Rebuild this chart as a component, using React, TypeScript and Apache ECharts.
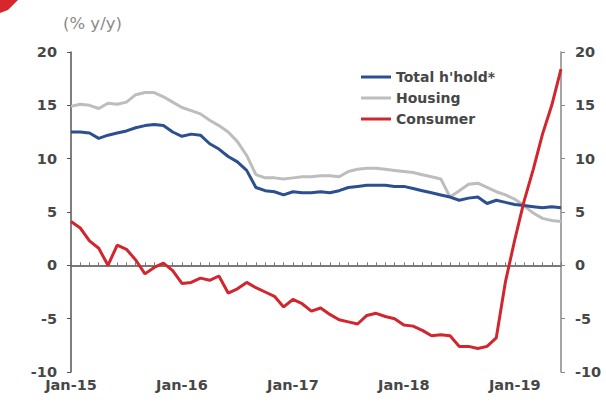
import React, { useEffect, useRef } from "react";
import * as echarts from "echarts";

const MONTHS = ["Jan", "Feb", "Mar", "Apr", "May", "Jun", "Jul", "Aug", "Sep", "Oct", "Nov", "Dec"];
const YEARS = ["15", "16", "17", "18", "19"];
const LAST_MONTH_INDEX_2019 = 5; // Jun-19

const categories: string[] = [];
YEARS.forEach((y, yi) => {
  MONTHS.forEach((m, mi) => {
    if (yi === YEARS.length - 1 && mi > LAST_MONTH_INDEX_2019) return;
    categories.push(`${m}-${y}`);
  });
});

const totalHousehold = [
  12.5, 12.5, 12.4, 11.9, 12.2, 12.4, 12.6, 12.9, 13.1, 13.2, 13.1, 12.5,
  12.1, 12.3, 12.2, 11.4, 10.9, 10.2, 9.7, 8.9, 7.3, 7.0, 6.9, 6.6,
  6.9, 6.8, 6.8, 6.9, 6.8, 7.0, 7.3, 7.4, 7.5, 7.5, 7.5, 7.4,
  7.4, 7.2, 7.0, 6.8, 6.6, 6.4, 6.1, 6.3, 6.4, 5.8, 6.1, 5.9,
  5.7, 5.6, 5.5, 5.4, 5.5, 5.4,
];

const housing = [
  14.9, 15.1, 15.0, 14.7, 15.2, 15.1, 15.3, 16.0, 16.2, 16.2, 15.8, 15.3,
  14.8, 14.5, 14.2, 13.6, 13.1, 12.5, 11.6, 10.3, 8.5, 8.2, 8.2, 8.1,
  8.2, 8.3, 8.3, 8.4, 8.4, 8.3, 8.8, 9.0, 9.1, 9.1, 9.0, 8.9,
  8.8, 8.7, 8.5, 8.3, 8.1, 6.4, 7.0, 7.6, 7.7, 7.3, 6.9, 6.6,
  6.2, 5.6, 4.9, 4.4, 4.2, 4.1,
];

const consumer = [
  4.1, 3.5, 2.3, 1.6, 0.0, 1.9, 1.5, 0.5, -0.8, -0.2, 0.2, -0.5,
  -1.7, -1.6, -1.2, -1.4, -1.0, -2.6, -2.2, -1.6, -2.1, -2.5, -2.9, -3.9,
  -3.2, -3.6, -4.3, -4.0, -4.6, -5.1, -5.3, -5.5, -4.7, -4.5, -4.8, -5.0,
  -5.6, -5.7, -6.1, -6.6, -6.5, -6.6, -7.6, -7.6, -7.8, -7.6, -6.8, -1.5,
  2.4, 6.0, 9.0, 12.3, 15.0, 18.4,
];

const yTicks = [-10, -5, 0, 5, 10, 15, 20];

const FONT = "DejaVu Sans, Liberation Sans, sans-serif";

export default function App() {
  const ref = useRef<HTMLDivElement>(null);

  useEffect(() => {
    if (!ref.current) return;
    const chart = echarts.init(ref.current, null, { renderer: "svg" });
    const axisFont = {
      fontFamily: FONT,
      fontSize: 14.5,
      fontWeight: "bold" as const,
      color: "#474747",
    };
    const yAxisBase = {
      type: "value" as const,
      min: yTicks[0],
      max: yTicks[yTicks.length - 1],
      interval: 5,
      splitLine: { show: false },
    };
    chart.setOption({
      animation: false,
      backgroundColor: "#ffffff",
      grid: { left: 71, right: 45, top: 52, bottom: 32 },
      graphic: [
        {
          type: "polygon",
          shape: { points: [[0, 0], [18, 0], [8, 10], [0, 13]] },
          style: { fill: "#d7262c" },
        },
        {
          type: "text",
          left: 63,
          top: 15,
          style: {
            text: "(% y/y)",
            fontFamily: FONT,
            fontSize: 16.5,
            fill: "#8a8a8a",
          },
        },
      ],
      legend: {
        orient: "vertical",
        left: 356,
        top: 65,
        icon: "rect",
        itemWidth: 30,
        itemHeight: 3,
        itemGap: 7,
        textStyle: {
          fontFamily: FONT,
          fontSize: 14,
          fontWeight: "bold",
          color: "#474747",
          lineHeight: 14,
        },
        data: ["Total h'hold*", "Housing", "Consumer"],
      },
      xAxis: {
        type: "category",
        data: categories,
        boundaryGap: false,
        axisLine: { lineStyle: { color: "#555", width: 1.5 } },
        axisTick: { show: true, inside: true, length: 3, interval: 0, lineStyle: { color: "#777" } },
        axisLabel: { ...axisFont, interval: 11, margin: 5 },
      },
      yAxis: [
        {
          ...yAxisBase,
          position: "left",
          axisLine: { show: true, lineStyle: { color: "#555", width: 1.5 } },
          axisTick: { show: true, inside: false, length: 4, lineStyle: { color: "#555" } },
          axisLabel: { ...axisFont, margin: 14 },
        },
        {
          ...yAxisBase,
          position: "right",
          axisLine: { show: true, lineStyle: { color: "#888", width: 1.5 } },
          axisTick: { show: true, inside: false, length: 4, lineStyle: { color: "#888" } },
          axisLabel: { ...axisFont, margin: 14 },
        },
      ],
      series: [
        {
          name: "Total h'hold*",
          type: "line",
          data: totalHousehold,
          symbol: "none",
          z: 4,
          lineStyle: { color: "#2c4f8f", width: 3 },
          itemStyle: { color: "#2c4f8f" },
          markLine: {
            silent: true,
            symbol: "none",
            label: { show: false },
            lineStyle: { color: "#777", width: 1.5, type: "solid" },
            data: [{ yAxis: 0 }],
          },
        },
        {
          name: "Housing",
          type: "line",
          data: housing,
          symbol: "none",
          z: 3,
          lineStyle: { color: "#bdbdbd", width: 3 },
          itemStyle: { color: "#bdbdbd" },
        },
        {
          name: "Consumer",
          type: "line",
          data: consumer,
          symbol: "none",
          z: 5,
          lineStyle: { color: "#d2262e", width: 3 },
          itemStyle: { color: "#d2262e" },
        },
      ],
    });
    return () => chart.dispose();
  }, []);

  return (
    <div
      ref={ref}
      style={{ position: "fixed", left: 0, top: 0, width: 606, height: 404, background: "#fff" }}
    />
  );
}
